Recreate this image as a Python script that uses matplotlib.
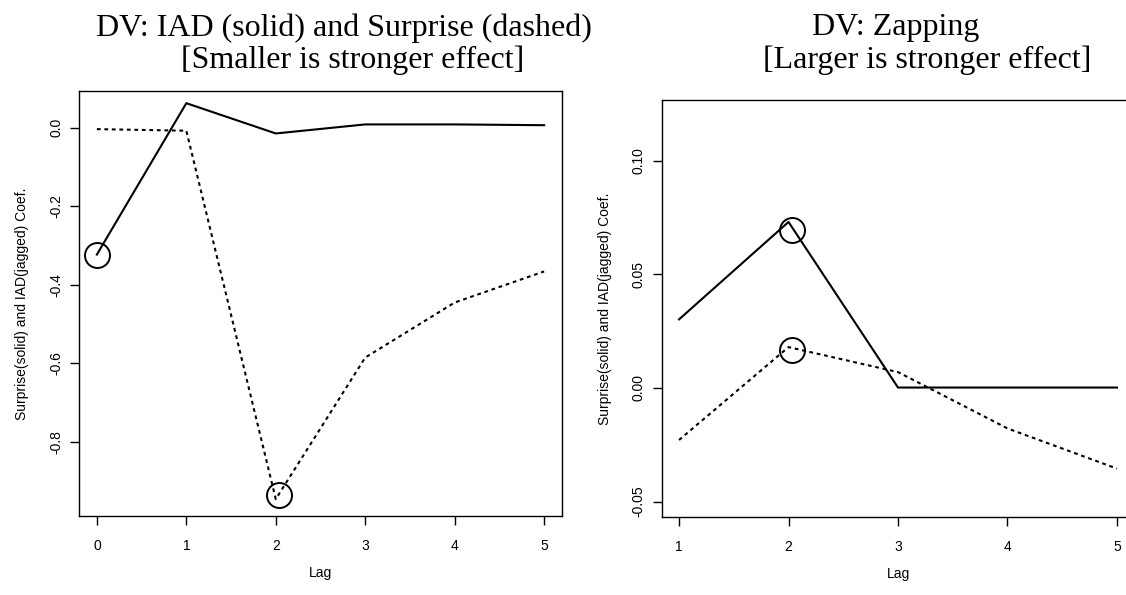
import matplotlib
matplotlib.use("Agg")
import matplotlib.pyplot as plt

# left panel: DV IAD / Surprise
lags_left = [0, 1, 2, 3, 4, 5]
solid_left = [-0.323, 0.062, -0.015, 0.008, 0.008, 0.006]
dashed_left = [-0.004, -0.008, -0.945, -0.585, -0.445, -0.366]
circles_left_x = [0.0, 2.04]
circles_left_y = [-0.323, -0.934]

# right panel: DV Zapping
lags_right = [1, 2, 3, 4, 5]
solid_right = [0.0302, 0.0731, 0.0002, 0.0002, 0.0002]
dashed_right = [-0.0229, 0.0180, 0.0070, -0.0178, -0.0355]
circles_right_x = [2.03, 2.03]
circles_right_y = [0.0695, 0.0167]

left_yticks = [0.0, -0.2, -0.4, -0.6, -0.8]
left_yticklabels = ["0.0", "-0.2", "-0.4", "-0.6", "-0.8"]
right_yticks = [-0.05, 0.0, 0.05, 0.10]
right_yticklabels = ["-0.05", "0.00", "0.05", "0.10"]

ylabel = "Surprise(solid) and IAD(jagged) Coef."

W, H = 1126, 595
fig = plt.figure(figsize=(W / 100, H / 100), dpi=100)

sans = ["Liberation Sans", "DejaVu Sans"]
serif = ["Liberation Serif", "DejaVu Serif"]


def px_axes(x0, x1, ytop, ybot):
    return fig.add_axes([x0 / W, 1 - ybot / H, (x1 - x0) / W, (ybot - ytop) / H])


def style(ax, yticks, yticklabels, xticks, width_px, height_px):
    for s in ax.spines.values():
        s.set_linewidth(1.0)
    ax.set_xticks(xticks)
    ax.set_xticklabels([str(t) for t in xticks], family=sans, fontsize=10)
    ax.set_yticks(yticks)
    ax.set_yticklabels(yticklabels, family=sans, fontsize=10,
                       rotation=90, va="center")
    ax.tick_params(direction="out", length=6.5, width=1.0)
    ax.tick_params(axis="x", pad=10)
    ax.tick_params(axis="y", pad=5)
    ax.set_xlabel("Lag", family=sans, fontsize=10, va="center")
    ax.set_ylabel(ylabel, family=sans, fontsize=10, va="center")
    ax.xaxis.set_label_coords(0.5, -57 / height_px)
    ax.yaxis.set_label_coords(-57 / width_px, 0.5)


def curves(ax, lags, solid, dashed, cx, cy):
    ax.plot(lags, solid, color="black", lw=1.5)
    ax.plot(lags, dashed, color="black", lw=1.5, dashes=(1.8, 1.8))
    ax.plot(cx, cy, "o", ms=18, mfc="none", mec="black", mew=1.4)


ax1 = px_axes(79, 562, 91, 516)
curves(ax1, lags_left, solid_left, dashed_left, circles_left_x, circles_left_y)
ax1.set_xlim(-0.2, 5.2)
ax1.set_ylim(-0.988, 0.093)
style(ax1, left_yticks, left_yticklabels, lags_left, 483, 425)

ax2 = px_axes(661.5, 1134.5, 100, 517)
curves(ax2, lags_right, solid_right, dashed_right,
       circles_right_x, circles_right_y)
ax2.set_xlim(0.84, 5.16)
ax2.set_ylim(-0.0568, 0.1268)
style(ax2, right_yticks, right_yticklabels, lags_right, 473, 417)

# titles, one line at a time
tsize = 23
fig.text(344 / W, 1 - 28 / H, "DV: IAD (solid) and Surprise (dashed)",
         family=serif, fontsize=tsize, ha="center", va="center")
fig.text(181 / W, 1 - 60 / H, "[Smaller is stronger effect]",
         family=serif, fontsize=tsize, ha="left", va="center")
fig.text(896 / W, 1 - 28 / H, "DV: Zapping",
         family=serif, fontsize=tsize, ha="center", va="center")
fig.text(927 / W, 1 - 60 / H, "[Larger is stronger effect]",
         family=serif, fontsize=tsize, ha="center", va="center")

fig.savefig("out.png", dpi=100)
